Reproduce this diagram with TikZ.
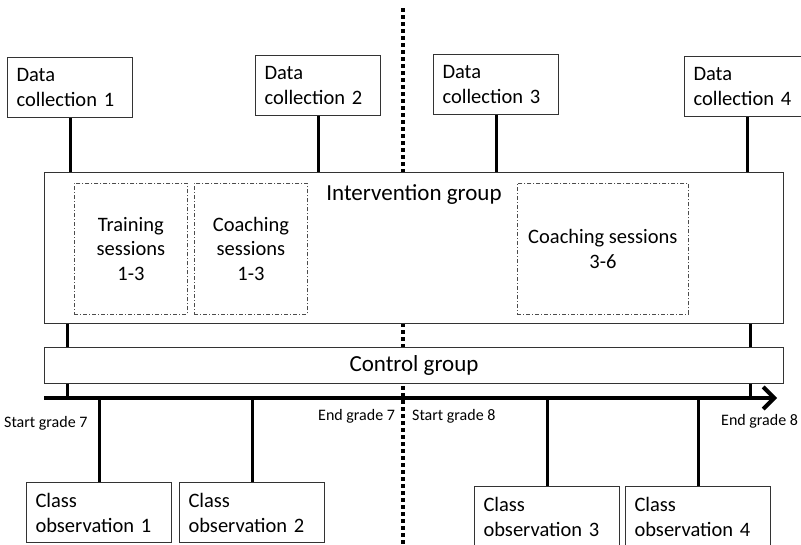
\documentclass[tikz,border=0pt]{standalone}
\usepackage{fontspec}
\setmainfont{Carlito}
\usetikzlibrary{arrows.meta,positioning}
\tikzset{
    %Define standard arrow tip
    >={Straight Barb[length=11pt,width=22pt]},
    %Define style for boxes
    datapunkt/.style={
           rectangle,
           draw=black!80, fill=white, line width=1pt,
           anchor=north west,
           inner xsep=9pt, inner ysep=0pt,
           text width=107pt,
           minimum height=60pt,
           align=left,
           font=\fontsize{20.5}{25}\selectfont},
    obspunkt/.style={
           datapunkt,
           text width=127pt},
    grouprect/.style={
           rectangle,
           draw=black!80, fill=white, line width=1pt,
           anchor=north west,
           inner sep=0pt,
           minimum width=739pt,
           font=\fontsize{23}{27}\selectfont},
    sessrect/.style={
           rectangle,
           draw=black!70, line width=0.8pt,
           dash pattern=on 4pt off 2pt on 1pt off 2pt,
           anchor=north west,
           inner sep=0pt,
           minimum height=131pt,
           align=center,
           font=\fontsize{20.5}{24.5}\selectfont},
    % Define connector style
    pil/.style={
           line width=3pt,
           black},
    prikk/.style={
           line width=3.5pt,
           dash pattern=on 3.5pt off 3.5pt},
    gradetekst/.style={
           anchor=base west,
           inner sep=0pt,
           font=\fontsize{16}{19}\selectfont}
}
\begin{document}
\begin{tikzpicture}[x=1pt,y=-1pt]
\useasboundingbox (0,0) rectangle (801,544);
 %coordinates
\coordinate (top) at (403,8);
\coordinate (bot) at (403,546);
\coordinate (ax0) at (44,398);
\coordinate (ax1) at (777,398);
\coordinate (lnk1) at (67,0);
\coordinate (lnk2) at (750,0);
\draw[prikk] (top) -- (bot);
 %nodes
\node[datapunkt](dc1) at (7,57){Data\\collection 1};
\node[datapunkt](dc2) at (255,55){Data\\collection 2};
\node[datapunkt](dc3) at (433,54){Data\\collection 3};
\node[datapunkt](dc4) at (684,56){Data\\collection 4};
\node[grouprect, minimum height=151pt,
      label={[font=\fontsize{23}{27}\selectfont, anchor=north, inner sep=0pt, yshift=-12pt]north:Intervention group}](int) at (44,172){};
\node[grouprect, minimum height=36pt, below=23pt of int.south west, anchor=north west](ctrl){Control group};
\node[sessrect, minimum width=113pt](ts) at (74,183){Training\\sessions\\1-3};
\node[sessrect, minimum width=113pt](cs1) at (194,183){Coaching\\sessions\\1-3};
\node[sessrect, minimum width=171pt](cs2) at (517,183){Coaching sessions\\3-6};
\node[obspunkt](co1) at (26,482){Class\\observation 1};
\node[obspunkt](co2) at (179,482){Class\\observation 2};
\node[obspunkt](co3) at (474,486){Class\\observation 3};
\node[obspunkt](co4) at (625,486){Class\\observation 4};
 %grade labels
\node[gradetekst](sg7) at (4,427){Start grade 7};
\node[gradetekst](eg7) at (318,420){End grade 7};
\node[gradetekst](sg8) at (412,420){Start grade 8};
\node[gradetekst](eg8) at (721,425){End grade 8};
 %connectors
\draw[pil, line width=4pt, ->] (ax0) -- (ax1);
\path[pil]
	(dc1.south) edge (dc1.south |- int.north)
	(dc2.south) edge (dc2.south |- int.north)
	(dc3.south) edge (dc3.south |- int.north)
	(dc4.south) edge (dc4.south |- int.north)
	(int.south -| lnk1) edge (ctrl.north -| lnk1)
	(int.south -| lnk2) edge (ctrl.north -| lnk2)
	(ctrl.south -| lnk1) edge (ax0 -| lnk1)
	(ctrl.south -| lnk2) edge (ax0 -| lnk2)
	(co1.north) edge (co1.north |- ax0)
	(co2.north) edge (co2.north |- ax0)
	(co3.north) edge (co3.north |- ax0)
	(co4.north) edge (co4.north |- ax0);
\end{tikzpicture}
\end{document}
